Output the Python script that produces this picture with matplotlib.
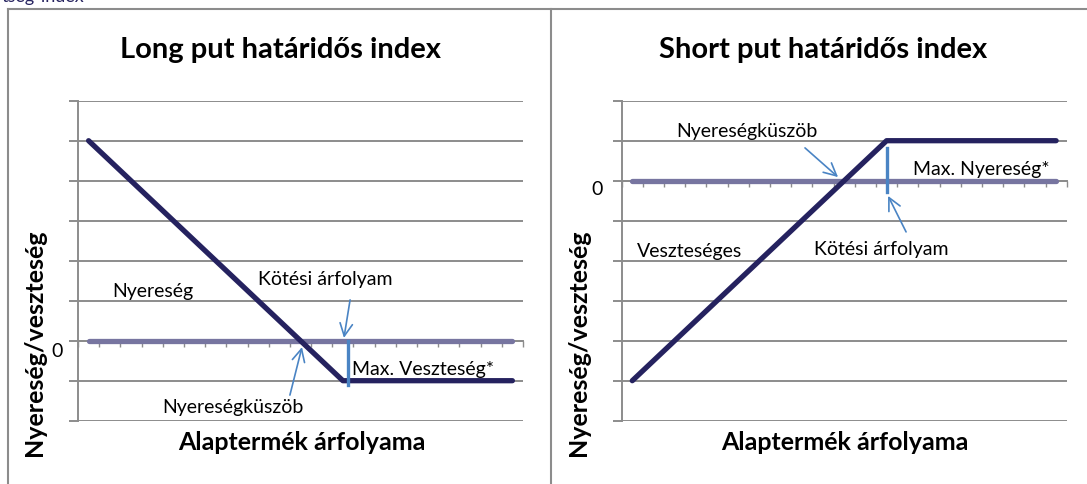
import matplotlib
matplotlib.use("Agg")
import matplotlib.pyplot as plt
from matplotlib.lines import Line2D

plt.rcParams['font.family'] = ['Lato', 'DejaVu Sans']

# categories on the price axis (21 points)
categories = list(range(21))
long_put = [5, 4.5, 4, 3.5, 3, 2.5, 2, 1.5, 1, 0.5, 0, -0.5, -1,
            -1, -1, -1, -1, -1, -1, -1, -1]
short_put = [-5, -4.5, -4, -3.5, -3, -2.5, -2, -1.5, -1, -0.5, 0, 0.5, 1,
             1, 1, 1, 1, 1, 1, 1, 1]
zero_line = [0] * 21

W, H = 1087, 484
NAVY = "#25225f"
ZERO = "#7775a0"
GRID = "#8c8c8c"
BLUE = "#4a84c4"

fig = plt.figure(figsize=(W / 100, H / 100), dpi=100)


def fx(px):
    return px / W


def fy(py):
    return 1 - py / H


def make_axes(left_px, ylim, values):
    ax = fig.add_axes([fx(left_px), fy(420.7), 445 / W, 320 / H])
    ax.set_xlim(-0.5, 20.5)
    ax.set_ylim(*ylim)
    ax.set_yticks(range(ylim[0], ylim[1] + 1))
    ax.set_yticklabels([])
    ax.grid(axis="y", color=GRID, lw=1.4)
    ax.set_axisbelow(True)
    ax.set_xticks([c - 0.5 for c in categories] + [20.5])
    ax.set_xticklabels([])
    ax.tick_params(axis="x", direction="out", length=4.5, width=1.0, color=GRID)
    ax.tick_params(axis="y", direction="out", length=6.5, width=1.4, color=GRID)
    for s in ["top", "right"]:
        ax.spines[s].set_visible(False)
    ax.spines["left"].set_color(GRID)
    ax.spines["left"].set_linewidth(1.4)
    ax.spines["bottom"].set_position(("data", 0))
    ax.spines["bottom"].set_color(GRID)
    ax.spines["bottom"].set_linewidth(1.4)
    ax.plot(categories, zero_line, color=ZERO, lw=3.8, solid_capstyle="round", zorder=3)
    ax.plot(categories, values, color=NAVY, lw=3.8, solid_capstyle="round",
            solid_joinstyle="round", zorder=4)
    return ax


def arrow(ax, tail, head):
    ax.annotate("", xy=head, xytext=tail,
                arrowprops=dict(arrowstyle="->,head_length=0.9,head_width=0.45",
                                color=BLUE, lw=1.2, shrinkA=0, shrinkB=0),
                zorder=6)


FS = 14
# ---- left: long put
ax1 = make_axes(78, (-2, 6), long_put)
ax1.plot([12.24, 12.24], [0, -1.1], color=BLUE, lw=2.4, zorder=5)
arrow(ax1, (12.34, 1.02), (12.05, 0.07))
arrow(ax1, (9.5, -1.36), (10.07, -0.16))
tk = dict(fontsize=FS, ha="center", va="center", color="black")
ax1.text(3.04, 1.22, "Nyereség", **tk)
ax1.text(11.16, 1.54, "Kötési árfolyam", **tk)
ax1.text(12.43, -0.73, "Max. Veszteség*", fontsize=FS, ha="left", va="center")
ax1.text(6.81, -1.66, "Nyereségküszöb", **tk)
ax1.text(-1.49, -0.28, "0", **tk)

# ---- right: short put
ax2 = make_axes(621.7, (-6, 2), short_put)
ax2.plot([12.03, 12.03], [0.82, -0.28], color=BLUE, lw=2.4, zorder=5)
arrow(ax2, (8.15, 0.82), (9.71, 0.09))
arrow(ax2, (12.92, -1.28), (12.07, -0.38))
ax2.text(5.41, 1.24, "Nyereségküszöb", **tk)
ax2.text(13.25, 0.27, "Max. Nyereség*", fontsize=FS, ha="left", va="center")
ax2.text(2.72, -1.78, "Veszteséges", **tk)
ax2.text(11.74, -1.73, "Kötési árfolyam", **tk)
ax2.text(-1.67, -0.23, "0", **tk)

# titles and axis labels
bold = dict(fontweight="bold", ha="center", va="center", color="black")
fig.text(fx(280), fy(50), "Long put határidős index", fontsize=21, **bold)
fig.text(fx(823), fy(50), "Short put határidős index", fontsize=21, **bold)
fig.text(fx(302), fy(442), "Alaptermék árfolyama", fontsize=18, **bold)
fig.text(fx(845), fy(442), "Alaptermék árfolyama", fontsize=18, **bold)
fig.text(fx(35), fy(343), "Nyereség/veszteség", fontsize=18, rotation=90, **bold)
fig.text(fx(578), fy(343), "Nyereség/veszteség", fontsize=18, rotation=90, **bold)

# panel borders
for xs, ys in [([8, 8], [9, H]), ([8, W], [9, 9]), ([551, 551], [9, H])]:
    fig.add_artist(Line2D([fx(x) for x in xs], [fy(y) for y in ys],
                          color=GRID, lw=1.5))

# text cut off at the very top edge, as in the source
fig.text(fx(2), fy(2), "tség-index", fontsize=13, color=NAVY, ha="left", va="baseline")

fig.savefig("out.png", dpi=100)
